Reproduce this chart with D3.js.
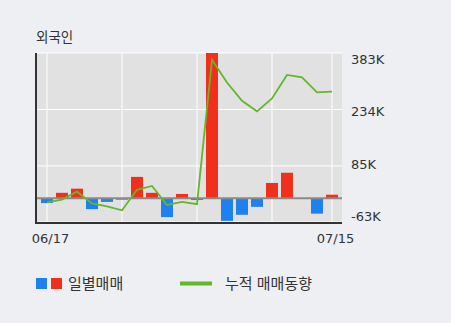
<!DOCTYPE html>
<html lang="ko">
<head>
<meta charset="UTF-8">
<title>외국인</title>
<script src="https://d3js.org/d3.v7.min.js"></script>
<style>
    body { margin: 0; background: #edeff3; }
    svg { display: block; }
    text { font-family: "Noto Sans CJK KR", "DejaVu Sans", sans-serif; fill: #333; }
</style>
</head>
<body>
<svg id="chart" width="451" height="323"></svg>
<script>
    // trading days (only first and last are labelled)
    const dates = ["06/17", "06/18", "06/19", "06/20", "06/21", "06/24", "06/25", "06/26", "06/27", "06/28",
                   "07/01", "07/02", "07/03", "07/04", "07/05", "07/08", "07/09", "07/10", "07/11", "07/15"];
    // daily net buying (thousand shares)
    const daily = [-13, 14, 25, -29, -10, -4, 56, 14, -50, 11, -5, 390, -60, -44, -23, 40, 67, 0, -41, 9];
    // cumulative net buying (thousand shares)
    const cumulative = [-11, -4, 17, -14, -22, -32, 22, 32, -18, -10, -16, 365, 305, 257, 229, 263, 325, 319, 279, 281];
    const yTicks = [-63, 85, 234, 383];

    const svg = d3.select("#chart");
    const plot = { left: 36, right: 342, top: 53, bottom: 222 };

    const x = d3.scaleLinear().domain([0, dates.length - 1]).range([47, 332]);
    const y = d3.scaleLinear().domain([-63, 383]).range([plot.bottom, plot.top]);
    const yLabel = d3.scaleLinear().domain([-63, 383]).range([216, 59]);

    svg.append("text")
        .attr("x", 36).attr("y", 42)
        .style("font-size", "13.5px")
        .text("외국인");

    svg.append("rect")
        .attr("x", plot.left).attr("y", plot.top)
        .attr("width", plot.right - plot.left)
        .attr("height", plot.bottom - plot.top)
        .attr("fill", "#e1e1e1");

    svg.append("defs").append("clipPath").attr("id", "clip")
        .append("rect")
        .attr("x", plot.left).attr("y", plot.top)
        .attr("width", plot.right - plot.left)
        .attr("height", plot.bottom - plot.top);

    // grid
    svg.append("g").selectAll("line")
        .data(yTicks)
        .enter().append("line")
        .attr("x1", plot.left).attr("x2", plot.right)
        .attr("y1", d => y(d)).attr("y2", d => y(d))
        .attr("stroke", "#fff").attr("stroke-width", 1);

    const xGrid = [0, 5, 10, 15, dates.length - 1];
    svg.append("g").selectAll("line")
        .data(xGrid)
        .enter().append("line")
        .attr("x1", d => x(d)).attr("x2", d => x(d))
        .attr("y1", plot.top).attr("y2", plot.bottom)
        .attr("stroke", "#fff").attr("stroke-width", 1);

    // bars
    const barW = 12;
    svg.append("g").attr("clip-path", "url(#clip)")
        .selectAll("rect")
        .data(daily)
        .enter().append("rect")
        .attr("x", (d, i) => x(i) - barW / 2)
        .attr("y", d => y(Math.max(0, d)))
        .attr("width", barW)
        .attr("height", d => Math.abs(y(d) - y(0)))
        .attr("fill", d => d >= 0 ? "#f0301c" : "#1f80f0");

    // zero line
    svg.append("line")
        .attr("x1", plot.left).attr("x2", plot.right)
        .attr("y1", y(0)).attr("y2", y(0))
        .attr("stroke", "#8a8a8a").attr("stroke-width", 2);

    // cumulative line
    const line = d3.line().x((d, i) => x(i)).y(d => y(d));
    svg.append("path")
        .datum(cumulative)
        .attr("d", line)
        .attr("fill", "none")
        .attr("stroke", "#63b72a")
        .attr("stroke-width", 1.8);

    // axes
    svg.append("line")
        .attr("x1", plot.left).attr("x2", plot.left)
        .attr("y1", plot.top).attr("y2", plot.bottom + 2)
        .attr("stroke", "#333").attr("stroke-width", 2);
    svg.append("line")
        .attr("x1", plot.left).attr("x2", plot.right)
        .attr("y1", plot.bottom + 1).attr("y2", plot.bottom + 1)
        .attr("stroke", "#333").attr("stroke-width", 2);

    const fmt = d => d + "K";
    const yAxis = d3.axisRight(yLabel).tickValues(yTicks).tickFormat(fmt).tickSize(0).tickPadding(0);
    const yg = svg.append("g")
        .attr("transform", "translate(351,0)")
        .call(yAxis);
    yg.select(".domain").remove();
    yg.selectAll("text")
        .style("font-size", "13px")
        .style("font-family", "'DejaVu Sans', sans-serif")
        .attr("fill", "#333");

    const xAxis = d3.axisBottom(x)
        .tickValues([0, dates.length - 1])
        .tickFormat(i => dates[i])
        .tickSize(0).tickPadding(0);
    const xg = svg.append("g")
        .attr("transform", "translate(3,234)")
        .call(xAxis);
    xg.select(".domain").remove();
    xg.selectAll("text")
        .style("font-size", "13px")
        .style("font-family", "'DejaVu Sans', sans-serif")
        .attr("fill", "#333");

    // legend
    const legend = svg.append("g");
    legend.append("rect").attr("x", 36).attr("y", 278).attr("width", 11).attr("height", 11).attr("fill", "#1f80f0");
    legend.append("rect").attr("x", 51).attr("y", 278).attr("width", 11).attr("height", 11).attr("fill", "#f0301c");
    legend.append("text").attr("x", 68).attr("y", 289).style("font-size", "15px").text("일별매매");
    legend.append("line").attr("x1", 180).attr("x2", 212).attr("y1", 283.5).attr("y2", 283.5)
        .attr("stroke", "#63b72a").attr("stroke-width", 4);
    legend.append("text").attr("x", 225).attr("y", 289).style("font-size", "15px").text("누적 매매동향");
</script>
</body>
</html>
